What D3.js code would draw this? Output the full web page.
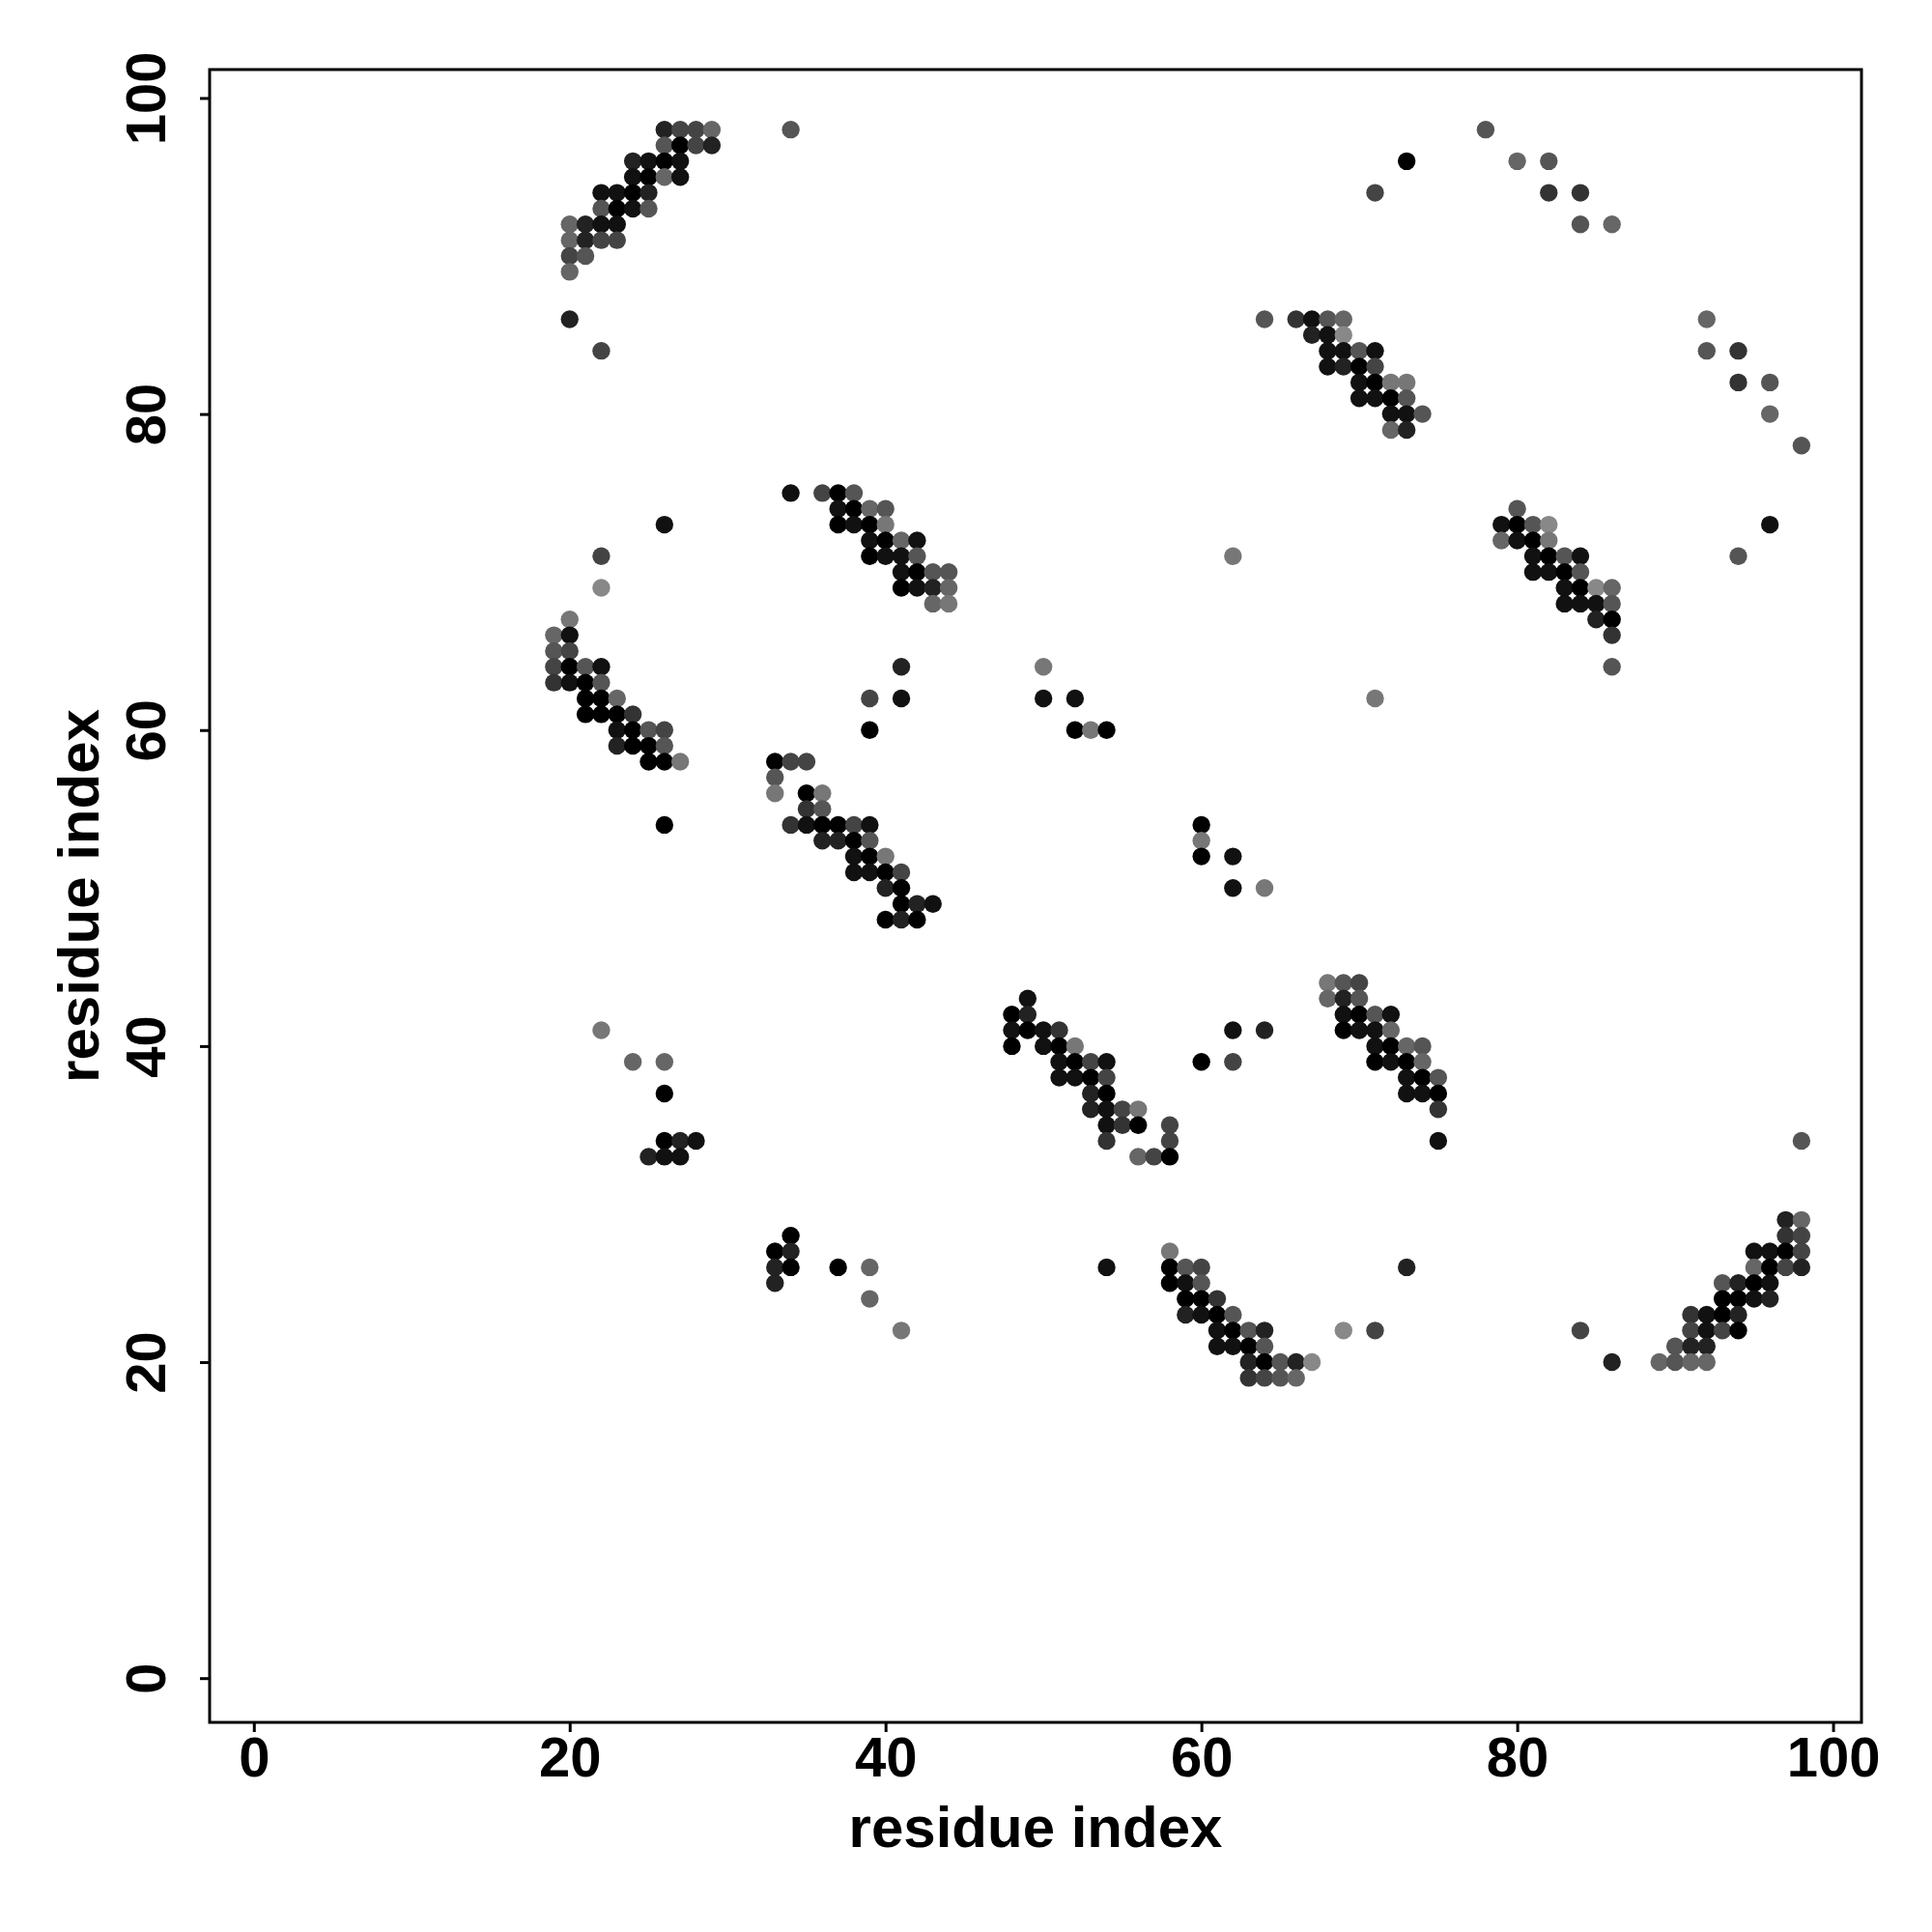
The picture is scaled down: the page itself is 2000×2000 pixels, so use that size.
<!DOCTYPE html>
<html>
<head>
<meta charset="utf-8">
<script src="https://cdn.jsdelivr.net/npm/d3@7"></script>
<style>
  html, body { margin: 0; padding: 0; background: #fff; }
  svg { display: block; }
  text { font-family: "Liberation Sans", Arial, Helvetica, sans-serif; font-weight: bold; }
</style>
</head>
<body>
<svg id="chart" width="2000" height="2000"></svg>
<script>
// [residue i, residue j, shade level (0 = black ... 8 = light gray)]
const contacts = [
  // top-left band
  [26,98,2],[27,98,4],[28,98,4],[29,98,6],[34,98,5],
  [26,97,5],[27,97,0],[28,97,4],[29,97,2],
  [24,96,2],[25,96,1],[26,96,0],[27,96,1],
  [24,95,1],[25,95,0],[26,95,6],[27,95,1],
  [22,94,1],[23,94,1],[24,94,0],[25,94,2],
  [22,93,5],[23,93,0],[24,93,1],[25,93,5],
  [20,92,6],[21,92,2],[22,92,1],[23,92,1],
  [20,91,6],[21,91,2],[22,91,4],[23,91,4],
  [20,90,4],[21,90,5],
  [20,89,6],[20,86,2],[22,84,4],
  // top-right scattered
  [78,98,5],[73,96,0],[80,96,6],[82,96,5],
  [71,94,4],[82,94,3],[84,94,3],[84,92,5],[86,92,6],
  [92,86,6],[92,84,5],[94,84,3],[94,82,3],[96,82,5],[96,80,6],[98,78,5],
  [96,73,1],[94,71,5],
  // band 64-74 / 79-86
  [64,86,5],[66,86,3],[67,86,1],[68,86,5],[69,86,6],
  [67,85,2],[68,85,1],[69,85,8],
  [68,84,1],[69,84,1],[70,84,5],[71,84,1],
  [68,83,1],[69,83,2],[70,83,0],[71,83,4],
  [70,82,1],[71,82,0],[72,82,7],[73,82,7],
  [70,81,1],[71,81,1],[72,81,0],[73,81,5],
  [72,80,1],[73,80,1],[74,80,5],
  [72,79,6],[73,79,2],
  // band 34-44 / 68-75
  [34,75,1],[36,75,4],[37,75,0],[38,75,5],
  [37,74,1],[38,74,0],[39,74,6],[40,74,5],
  [26,73,1],[37,73,0],[38,73,1],[39,73,0],[40,73,7],
  [39,72,1],[40,72,0],[41,72,6],[42,72,1],
  [22,71,4],[39,71,0],[40,71,1],[41,71,1],[42,71,5],
  [41,70,1],[42,70,0],[43,70,5],[44,70,5],
  [22,69,8],[41,69,0],[42,69,1],[43,69,2],[44,69,6],
  [43,68,6],[44,68,7],
  // band 79-86 / 64-74
  [80,74,5],
  [79,73,1],[80,73,0],[81,73,5],[82,73,8],
  [79,72,6],[80,72,1],[81,72,0],[82,72,7],
  [81,71,1],[82,71,0],[83,71,5],[84,71,1],
  [81,70,1],[82,70,1],[83,70,0],[84,70,5],
  [83,69,1],[84,69,0],[85,69,8],[86,69,6],
  [83,68,1],[84,68,1],[85,68,1],[86,68,5],
  [85,67,2],[86,67,0],[86,66,3],[86,64,5],
  // middle scattered
  [62,71,7],[71,62,7],[50,64,7],[50,62,1],[52,62,1],
  [52,60,0],[53,60,7],[54,60,0],
  [60,54,0],[60,53,7],[60,52,0],[62,52,1],[62,50,1],[64,50,7],
  // band 19-27 / 54-67
  [20,67,7],
  [19,66,6],[20,66,1],
  [19,65,5],[20,65,4],
  [19,64,4],[20,64,0],[21,64,5],[22,64,1],
  [19,63,3],[20,63,1],[21,63,0],[22,63,5],
  [21,62,0],[22,62,0],[23,62,6],
  [21,61,0],[22,61,0],[23,61,0],[24,61,3],
  [23,60,1],[24,60,0],[25,60,5],[26,60,4],
  [23,59,2],[24,59,0],[25,59,0],[26,59,5],
  [25,58,0],[26,58,0],[27,58,7],
  [26,54,0],
  // band 33-43 / 48-64
  [41,64,2],[39,62,4],[41,62,1],[39,60,0],
  [33,58,0],[34,58,4],[35,58,4],
  [33,57,5],
  [33,56,7],[35,56,0],[36,56,7],
  [35,55,3],[36,55,5],
  [34,54,3],[35,54,1],[36,54,0],[37,54,0],[38,54,4],[39,54,1],
  [36,53,2],[37,53,2],[38,53,0],[39,53,5],
  [38,52,1],[39,52,0],[40,52,7],
  [38,51,1],[39,51,1],[40,51,0],[41,51,4],
  [40,50,2],[41,50,0],
  [41,49,0],[42,49,2],[43,49,1],
  [40,48,0],[41,48,2],[42,48,0],
  // band 48-58 / 33-43
  [49,43,1],
  [48,42,0],[49,42,2],
  [48,41,1],[49,41,0],[50,41,1],[51,41,3],
  [48,40,0],[50,40,1],[51,40,0],[52,40,7],
  [51,39,1],[52,39,0],[53,39,4],[54,39,1],
  [51,38,1],[52,38,1],[53,38,0],[54,38,4],
  [53,37,2],[54,37,0],
  [53,36,2],[54,36,1],[55,36,4],[56,36,7],
  [54,35,1],[55,35,3],[56,35,0],[58,35,4],
  [54,34,3],[58,34,4],
  [56,33,6],[57,33,4],[58,33,0],
  [62,41,1],[64,41,2],[60,39,0],[62,39,4],
  // band 68-75 / 34-44
  [68,44,7],[69,44,5],[70,44,4],
  [68,43,6],[69,43,2],[70,43,5],
  [69,42,1],[70,42,0],[71,42,5],[72,42,1],
  [69,41,0],[70,41,1],[71,41,1],[72,41,6],
  [71,40,1],[72,40,0],[73,40,6],[74,40,5],
  [71,39,0],[72,39,1],[73,39,0],[74,39,6],
  [73,38,1],[74,38,0],[75,38,5],
  [73,37,1],[74,37,1],[75,37,0],
  [75,36,3],[75,34,1],
  // lower-left scattered
  [22,41,7],[24,39,6],[26,39,6],[26,37,0],
  [26,34,0],[27,34,2],[28,34,1],
  [25,33,2],[26,33,1],[27,33,1],
  [34,28,0],[33,27,0],[34,27,2],
  [33,26,2],[34,26,0],[37,26,0],[39,26,6],
  [33,25,2],[39,24,6],[41,22,7],
  // band 58-67 / 19-27
  [54,26,1],
  [58,27,7],
  [58,26,0],[59,26,5],[60,26,4],
  [58,25,0],[59,25,1],[60,25,5],
  [59,24,0],[60,24,0],[61,24,3],
  [59,23,2],[60,23,1],[61,23,0],[62,23,5],
  [61,22,1],[62,22,0],[63,22,5],[64,22,2],[69,22,8],[71,22,4],
  [61,21,1],[62,21,1],[63,21,0],[64,21,5],
  [63,20,2],[64,20,0],[65,20,5],[66,20,2],[67,20,8],
  [63,19,3],[64,19,4],[65,19,5],[66,19,6],
  // lower-right
  [73,26,2],[84,22,4],[86,20,2],[98,34,5],
  [97,29,2],[98,29,6],
  [97,28,3],[98,28,4],
  [95,27,1],[96,27,1],[97,27,0],[98,27,4],
  [95,26,6],[96,26,0],[97,26,4],[98,26,2],
  [93,25,5],[94,25,2],[95,25,0],[96,25,1],
  [93,24,0],[94,24,0],[95,24,1],[96,24,2],
  [91,23,3],[92,23,1],[93,23,0],[94,23,2],
  [91,22,4],[92,22,1],[93,22,4],[94,22,0],
  [90,21,5],[91,21,2],[92,21,2],
  [89,20,6],[90,20,5],[91,20,6],[92,20,6]
];
const xTicks = [0, 20, 40, 60, 80, 100];
const yTicks = [0, 20, 40, 60, 80, 100];
const xTitle = "residue index";
const yTitle = "residue index";

const svg = d3.select("#chart");
const L = 217, R = 1927, T = 72, B = 1783;
const x = d3.scaleLinear().domain([-2.8, 101.8]).range([L, R]);
const y = d3.scaleLinear().domain([-2.8, 101.8]).range([B, T]);
const shadeColor = d3.scaleLinear().domain([0, 8]).range(["#000000", "#888888"]);

// points
svg.append("g").selectAll("circle").data(contacts).join("circle")
  .attr("cx", d => x(d[0]))
  .attr("cy", d => y(d[1]))
  .attr("r", 9.2)
  .attr("fill", d => shadeColor(d[2]));

// box
svg.append("rect")
  .attr("x", L).attr("y", T).attr("width", R - L).attr("height", B - T)
  .attr("fill", "none").attr("stroke", "#000").attr("stroke-width", 3);

// x axis
const gx = svg.append("g").attr("transform", `translate(0,${B})`)
  .call(d3.axisBottom(x).tickValues(xTicks).tickSize(10).tickPadding(5).tickFormat(d3.format("d")));
gx.select(".domain").remove();
gx.selectAll("line").attr("stroke-width", 3);
gx.selectAll("text").attr("font-size", 58).attr("fill", "#000")
  .style("font-family", '"Liberation Sans", Arial, sans-serif').style("font-weight", "bold");

// y axis
const gy = svg.append("g").attr("transform", `translate(${L},0)`)
  .call(d3.axisLeft(y).tickValues(yTicks).tickSize(10).tickFormat(d3.format("d")));
gy.select(".domain").remove();
gy.selectAll("line").attr("stroke-width", 3);
gy.selectAll("text")
  .attr("x", null).attr("dy", null)
  .attr("transform", "translate(-46,0) rotate(-90)")
  .attr("text-anchor", "middle")
  .attr("font-size", 58).attr("fill", "#000")
  .style("font-family", '"Liberation Sans", Arial, sans-serif').style("font-weight", "bold");

// titles
svg.append("text")
  .attr("x", (L + R) / 2).attr("y", 1912)
  .attr("text-anchor", "middle").attr("font-size", 60)
  .text(xTitle);
svg.append("text")
  .attr("transform", `translate(102,${(T + B) / 2}) rotate(-90)`)
  .attr("text-anchor", "middle").attr("font-size", 60)
  .text(yTitle);
</script>
</body>
</html>
